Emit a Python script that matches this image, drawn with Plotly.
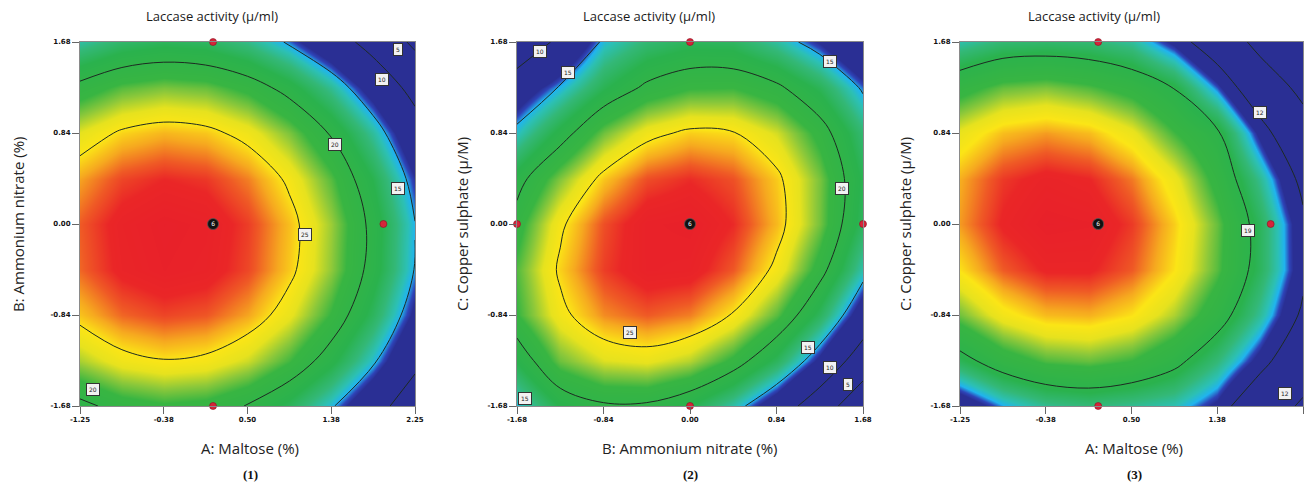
import plotly.graph_objects as go

# ---------------- data ----------------
maltose_nodes = [-1.25, -0.8125, -0.375, 0.0625, 0.5, 0.9375, 1.375, 1.8125, 2.25]
coded_nodes = [-1.68, -1.26, -0.84, -0.42, 0.0, 0.42, 0.84, 1.26, 1.68]

# Laccase activity, rows = y nodes (bottom -> top), cols = x nodes (left -> right)
activity_maltose_nitrate = [
    [19.43, 20.76, 21.29, 21.00, 19.91, 18.00, 15.29, 11.76, 7.43],
    [23.07, 24.41, 24.93, 24.65, 23.55, 21.65, 18.93, 15.41, 11.08],
    [25.56, 26.89, 27.42, 27.13, 26.04, 24.14, 21.42, 17.89, 13.56],
    [26.89, 28.22, 28.75, 28.46, 27.37, 25.46, 22.75, 19.22, 14.89],
    [27.06, 28.39, 28.92, 28.63, 27.54, 25.64, 22.92, 19.39, 15.06],
    [26.07, 27.41, 27.93, 27.65, 26.55, 24.65, 21.93, 18.41, 14.07],
    [23.93, 25.26, 25.79, 25.50, 24.41, 22.50, 19.79, 16.26, 11.93],
    [20.62, 21.96, 22.48, 22.20, 21.10, 19.20, 16.48, 12.96, 8.63],
    [16.16, 17.50, 18.02, 17.74, 16.64, 14.74, 12.02, 8.50, 4.16],
]
activity_nitrate_copper = [
    [15.30, 18.55, 19.70, 19.67, 18.44, 16.01, 12.39, 7.58, 1.57],
    [18.60, 22.26, 23.77, 24.10, 23.23, 21.16, 17.90, 13.45, 7.80],
    [21.44, 24.51, 26.39, 27.07, 26.56, 24.86, 21.96, 17.87, 12.58],
    [21.88, 25.31, 27.55, 28.60, 28.45, 27.10, 24.57, 20.83, 15.91],
    [20.86, 24.66, 27.26, 28.66, 28.87, 27.89, 25.71, 22.34, 17.78],
    [19.20, 22.55, 25.51, 27.28, 27.85, 27.22, 25.41, 22.40, 18.19],
    [15.60, 18.99, 22.31, 24.43, 25.36, 25.10, 23.65, 21.00, 17.15],
    [12.50, 15.20, 18.30, 20.40, 21.43, 21.53, 20.43, 18.14, 14.65],
    [6.50, 11.00, 15.40, 17.20, 18.00, 17.80, 16.20, 13.83, 10.71],
]
activity_maltose_copper = [
    [12.41, 14.94, 16.46, 16.95, 16.43, 15.80, 13.60, 8.76, 4.16],
    [18.11, 20.48, 21.82, 22.16, 21.47, 19.77, 17.05, 13.30, 8.54],
    [22.31, 24.52, 25.70, 25.87, 25.01, 23.14, 20.26, 16.35, 11.43],
    [25.02, 27.05, 28.07, 28.08, 27.06, 25.02, 21.96, 17.90, 12.80],
    [26.21, 28.09, 28.94, 28.78, 27.59, 25.39, 22.18, 17.93, 12.68],
    [25.92, 27.62, 28.31, 27.97, 26.63, 24.27, 20.88, 16.48, 11.05],
    [24.12, 25.65, 26.18, 25.68, 24.17, 21.64, 19.40, 13.52, 7.93],
    [20.81, 22.18, 22.54, 21.88, 20.80, 18.90, 14.60, 9.06, 3.31],
    [16.01, 17.22, 17.41, 17.20, 16.30, 13.60, 9.50, 3.09, -2.82],
]

levels_1 = dict(start=5, end=25, size=5)
levels_2 = dict(start=5, end=25, size=5)
levels_3 = dict(start=5, end=19, size=7)

maltose_ticks = [-1.25, -0.375, 0.5, 1.375, 2.25]
maltose_ticktext = ["-1.25", "-0.38", "0.50", "1.38", "2.25"]
coded_ticks = [-1.68, -0.84, 0.0, 0.84, 1.68]
coded_ticktext = ["-1.68", "-0.84", "0.00", "0.84", "1.68"]

# design points
design_1_x = [0.14, 0.14, 1.92]
design_1_y = [1.68, -1.68, 0.0]
center_1 = ([0.14], [0.0])
design_2_x = [-1.68, 1.68, 0.0, 0.0]
design_2_y = [0.0, 0.0, 1.68, -1.68]
center_2 = ([0.0], [0.0])
design_3_x = [0.16, 0.16, 1.92]
design_3_y = [1.68, -1.68, 0.0]
center_3 = ([0.16], [0.0])

# contour value labels: (x, y, text)
labels_1 = [(2.07, 1.61, "5"), (1.90, 1.33, "10"), (1.41, 0.73, "20"), (2.07, 0.33, "15"),
            (1.10, -0.10, "25"), (-1.11, -1.53, "20")]
labels_2 = [(-1.46, 1.59, "10"), (-1.18, 1.40, "15"), (1.36, 1.50, "15"), (1.48, 0.33, "20"),
            (-0.58, -1.00, "25"), (1.15, -1.14, "15"), (1.36, -1.32, "10"), (1.53, -1.48, "5"),
            (-1.60, -1.61, "15")]
labels_3 = [(1.81, 1.03, "12"), (1.69, -0.06, "19"), (2.07, -1.56, "12")]

titles_x = ["A: Maltose (%)", "B: Ammonium nitrate (%)", "A: Maltose (%)"]
titles_y = ["B: Ammonium nitrate (%)", "C: Copper sulphate (μ/M)", "C: Copper sulphate (μ/M)"]
panel_tags = ["(1)", "(2)", "(3)"]
top_title = "Laccase activity (μ/ml)"

# ---------------- style ----------------
W, H = 1309, 488
colorscale = [
    [0.00, "#2A2F94"], [0.03, "#2E44B8"], [0.07, "#20B4EE"], [0.12, "#2CC0B4"],
    [0.20, "#33B877"], [0.30, "#2AB24D"], [0.50, "#38B542"], [0.58, "#8CC83A"],
    [0.66, "#E6E21E"], [0.73, "#FBE516"], [0.80, "#F6A91F"], [0.87, "#EF5A25"],
    [0.93, "#EA2627"], [1.00, "#E8202A"],
]
ZMIN, ZMAX = 14.0, 29.0
LINE_COL = "#1d2a22"

panels = [
    dict(x=maltose_nodes, y=coded_nodes, z=activity_maltose_nitrate, lev=levels_1,
         xt=(maltose_ticks, maltose_ticktext), yt=(coded_ticks, coded_ticktext),
         dx=design_1_x, dy=design_1_y, c=center_1, labels=labels_1, px=(80, 415)),
    dict(x=coded_nodes, y=coded_nodes, z=activity_nitrate_copper, lev=levels_2,
         xt=(coded_ticks, coded_ticktext), yt=(coded_ticks, coded_ticktext),
         dx=design_2_x, dy=design_2_y, c=center_2, labels=labels_2, px=(517, 863)),
    dict(x=maltose_nodes, y=coded_nodes, z=activity_maltose_copper, lev=levels_3,
         xt=(maltose_ticks, maltose_ticktext), yt=(coded_ticks, coded_ticktext),
         dx=design_3_x, dy=design_3_y, c=center_3, labels=labels_3, px=(960, 1303)),
]
PY_TOP, PY_BOT = 42, 406
ydom = [(H - PY_BOT) / H, (H - PY_TOP) / H]

fig = go.Figure()
annotations = []
layout_axes = {}
for i, p in enumerate(panels):
    n = "" if i == 0 else str(i + 1)
    xa, ya = "x" + n, "y" + n
    fig.add_trace(go.Heatmap(x=p["x"], y=p["y"], z=p["z"], zsmooth="best",
                             colorscale=colorscale, zmin=ZMIN, zmax=ZMAX,
                             showscale=False, hoverinfo="skip", xaxis=xa, yaxis=ya))
    fig.add_trace(go.Contour(x=p["x"], y=p["y"], z=p["z"], showscale=False,
                             contours=dict(coloring="none", **p["lev"]),
                             line=dict(color=LINE_COL, width=1, smoothing=1.0),
                             hoverinfo="skip", xaxis=xa, yaxis=ya))
    fig.add_trace(go.Scatter(x=p["dx"], y=p["dy"], mode="markers", cliponaxis=False,
                             marker=dict(size=7, color="#D6243A",
                                         line=dict(color="#8a1020", width=0.6)),
                             hoverinfo="skip", xaxis=xa, yaxis=ya))
    fig.add_trace(go.Scatter(x=p["c"][0], y=p["c"][1], mode="markers+text", text=["6"],
                             textposition="middle center",
                             textfont=dict(size=6, color="white", family="DejaVu Sans"),
                             marker=dict(size=11, color="#111111",
                                         line=dict(color="#555555", width=0.8)),
                             hoverinfo="skip", xaxis=xa, yaxis=ya))
    x0, x1 = p["px"]
    common = dict(ticks="outside", ticklen=7, tickcolor="#666", tickwidth=1.3,
                  showgrid=False, zeroline=False, showline=True, linecolor="#8a8a8a",
                  linewidth=1, mirror=True, automargin=False,
                  tickfont=dict(size=7, color="#111", family="DejaVu Sans", weight="bold"))
    layout_axes["xaxis" + n] = dict(domain=[x0 / W, x1 / W], range=[p["x"][0], p["x"][-1]],
                                    anchor=ya, tickvals=p["xt"][0], ticktext=p["xt"][1], **common)
    layout_axes["yaxis" + n] = dict(domain=ydom, range=[p["y"][0], p["y"][-1]], anchor=xa,
                                    tickvals=p["yt"][0], ticktext=p["yt"][1], **common)
    for (lx, ly, lt) in p["labels"]:
        annotations.append(dict(x=lx, y=ly, xref=xa, yref=ya, text=lt, showarrow=False,
                                font=dict(size=6, color="#222", family="DejaVu Sans"),
                                bgcolor="#f2f2f2", bordercolor="#333", borderwidth=1,
                                borderpad=2))

title_cx = [212, 649, 1094]
xtitle_cx = [250, 690, 1134]
ytitle_x = [18, 462, 905]
for i in range(3):
    annotations.append(dict(x=title_cx[i] / W, y=(H - 16) / H, xref="paper", yref="paper",
                            text=top_title, showarrow=False, xanchor="center", yanchor="middle",
                            font=dict(size=13, color="#1a1a1a", family="Open Sans")))
    annotations.append(dict(x=xtitle_cx[i] / W, y=(H - 448) / H, xref="paper", yref="paper",
                            text=titles_x[i], showarrow=False, xanchor="center", yanchor="middle",
                            font=dict(size=15, color="#222", family="Open Sans")))
    annotations.append(dict(x=xtitle_cx[i] / W, y=(H - 474) / H, xref="paper", yref="paper",
                            text="<b>" + panel_tags[i] + "</b>", showarrow=False,
                            xanchor="center", yanchor="middle",
                            font=dict(size=13, color="#111", family="Liberation Serif")))
    annotations.append(dict(x=ytitle_x[i] / W, y=(H - 224) / H, xref="paper", yref="paper",
                            text=titles_y[i], showarrow=False, textangle=-90,
                            xanchor="center", yanchor="middle",
                            font=dict(size=15, color="#222", family="Open Sans")))

fig.update_layout(width=W, height=H,
                  margin=dict(l=0, r=0, t=0, b=0, pad=0, autoexpand=False),
                  paper_bgcolor="white", plot_bgcolor="white", showlegend=False,
                  annotations=annotations, **layout_axes)
fig.write_html("out.html", config={"displayModeBar": False},
               post_script="document.body.style.margin='0px';")
